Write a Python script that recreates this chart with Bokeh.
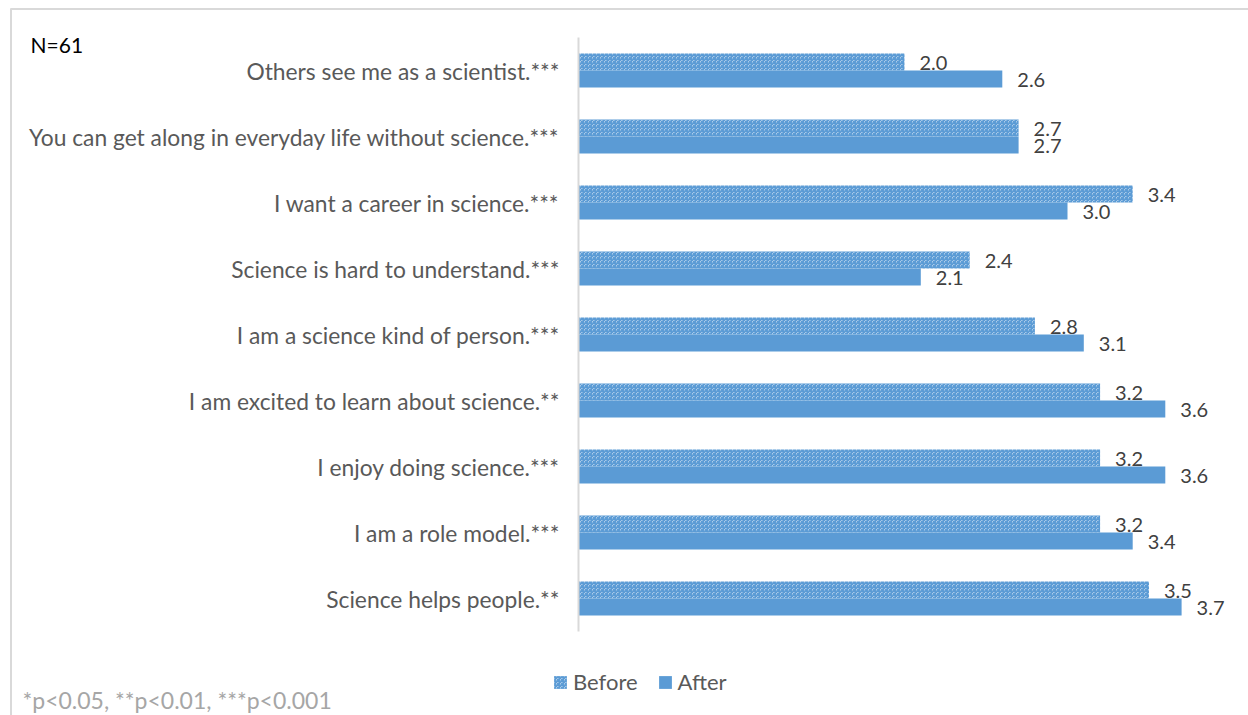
from bokeh.plotting import figure
from bokeh.models import Range1d, ColumnDataSource, Legend, LegendItem
from bokeh.core.properties import value
from bokeh.embed import file_html
from bokeh.resources import INLINE

categories = [
    "Others see me as a scientist.***",
    "You can get along in everyday life without science.***",
    "I want a career in science.***",
    "Science is hard to understand.***",
    "I am a science kind of person.***",
    "I am excited to learn about science.**",
    "I enjoy doing science.***",
    "I am a role model.***",
    "Science helps people.**",
]
before = [2.0, 2.7, 3.4, 2.4, 2.8, 3.2, 3.2, 3.2, 3.5]
after = [2.6, 2.7, 3.0, 2.1, 3.1, 3.6, 3.6, 3.4, 3.7]
series_names = ["Before", "After"]
note_n = "N=61"
footnote = "*p<0.05, **p<0.01, ***p<0.001"

FONT = "Lato"
BLUE = "#5B9BD5"
W, H = 1248, 715

# layout of the chart area in pixels (page coordinates)
X0_PX, PX_PER_UNIT = 578, 163.0      # value 0 and pixels per unit
ROW0_PX, ROW_STEP = 70.0, 66.0        # centre of first row and row spacing

def px2x(px):
    return (px - X0_PX) / PX_PER_UNIT

def py2y(py):
    return (py - ROW0_PX) / ROW_STEP

rows = list(range(len(categories)))
BAR_H = 0.258
OFF = 0.129

src = ColumnDataSource(dict(
    row=rows, cat=categories, before=before, after=after,
    y_before=[r - OFF for r in rows], y_after=[r + OFF for r in rows],
    y_before_lbl=[r - OFF + 0.02 for r in rows], y_after_lbl=[r + OFF + 0.01 for r in rows],
    before_lbl=[f"{v:.1f}" for v in before],
    after_lbl=[f"{v:.1f}" for v in after],
))

p = figure(width=W, height=H, output_backend="svg", toolbar_location=None,
           x_range=Range1d(px2x(0), px2x(W)),
           y_range=Range1d(py2y(H), py2y(0)),
           x_axis_location=None, y_axis_location=None,
           min_border=0, min_border_left=0, min_border_right=0,
           min_border_top=0, min_border_bottom=0)
p.outline_line_color = None
p.xgrid.visible = False
p.ygrid.visible = False
p.background_fill_color = "white"
p.border_fill_color = "white"

# chart-area border (light gray, top and left)
p.segment(x0=[px2x(10.5), px2x(10)], y0=[py2y(8), py2y(8.5)],
          x1=[px2x(10.5), px2x(W)], y1=[py2y(H), py2y(8.5)],
          line_color="#D9D9D9", line_width=2)

# bars
rb = p.hbar(y="y_before", right="before", left=0, height=BAR_H, source=src,
            fill_color="white", line_color=None,
            hatch_pattern="criss_cross", hatch_color=BLUE, hatch_scale=4, hatch_weight=1.5)
ra = p.hbar(y="y_after", right="after", left=0, height=BAR_H, source=src,
            fill_color=BLUE, line_color=None)

# category axis line and labels
p.segment(x0=[0], y0=[-0.5], x1=[0], y1=[len(categories) - 0.5],
          line_color="#D9D9D9", line_width=2)
p.text(x=px2x(559), y="row", text="cat", source=src,
       text_align="right", text_baseline="middle",
       text_font=value(FONT), text_font_size="22.8px", text_color="#595959")

# data labels
p.text(x="before", y="y_before_lbl", text="before_lbl", source=src,
       x_offset=15, text_baseline="middle", text_align="left",
       text_font=value(FONT), text_font_size="20px", text_color="#404040")
p.text(x="after", y="y_after_lbl", text="after_lbl", source=src,
       x_offset=15, text_baseline="middle", text_align="left",
       text_font=value(FONT), text_font_size="20px", text_color="#404040")

# N note and footnote
p.text(x=[px2x(30)], y=[py2y(44)], text=[note_n], text_align="left", text_baseline="middle",
       text_font=value(FONT), text_font_size="21px", text_color="#000000")
p.text(x=[px2x(22)], y=[py2y(699)], text=[footnote], text_align="left", text_baseline="middle",
       text_font=value(FONT), text_font_size="23px", text_color="#A6A6A6")

legend = Legend(items=[LegendItem(label=series_names[0], renderers=[rb]),
                       LegendItem(label=series_names[1], renderers=[ra])],
                orientation="horizontal", location=(552, H - 695),
                label_text_font=FONT, label_text_font_size="22px", label_text_color="#595959",
                glyph_width=16, glyph_height=16, label_standoff=5, spacing=19,
                label_height=22, label_text_baseline="middle",
                background_fill_alpha=0, border_line_color=None, padding=0, margin=0)
p.add_layout(legend, "center")

open("out.html", "w").write(file_html(p, INLINE))
